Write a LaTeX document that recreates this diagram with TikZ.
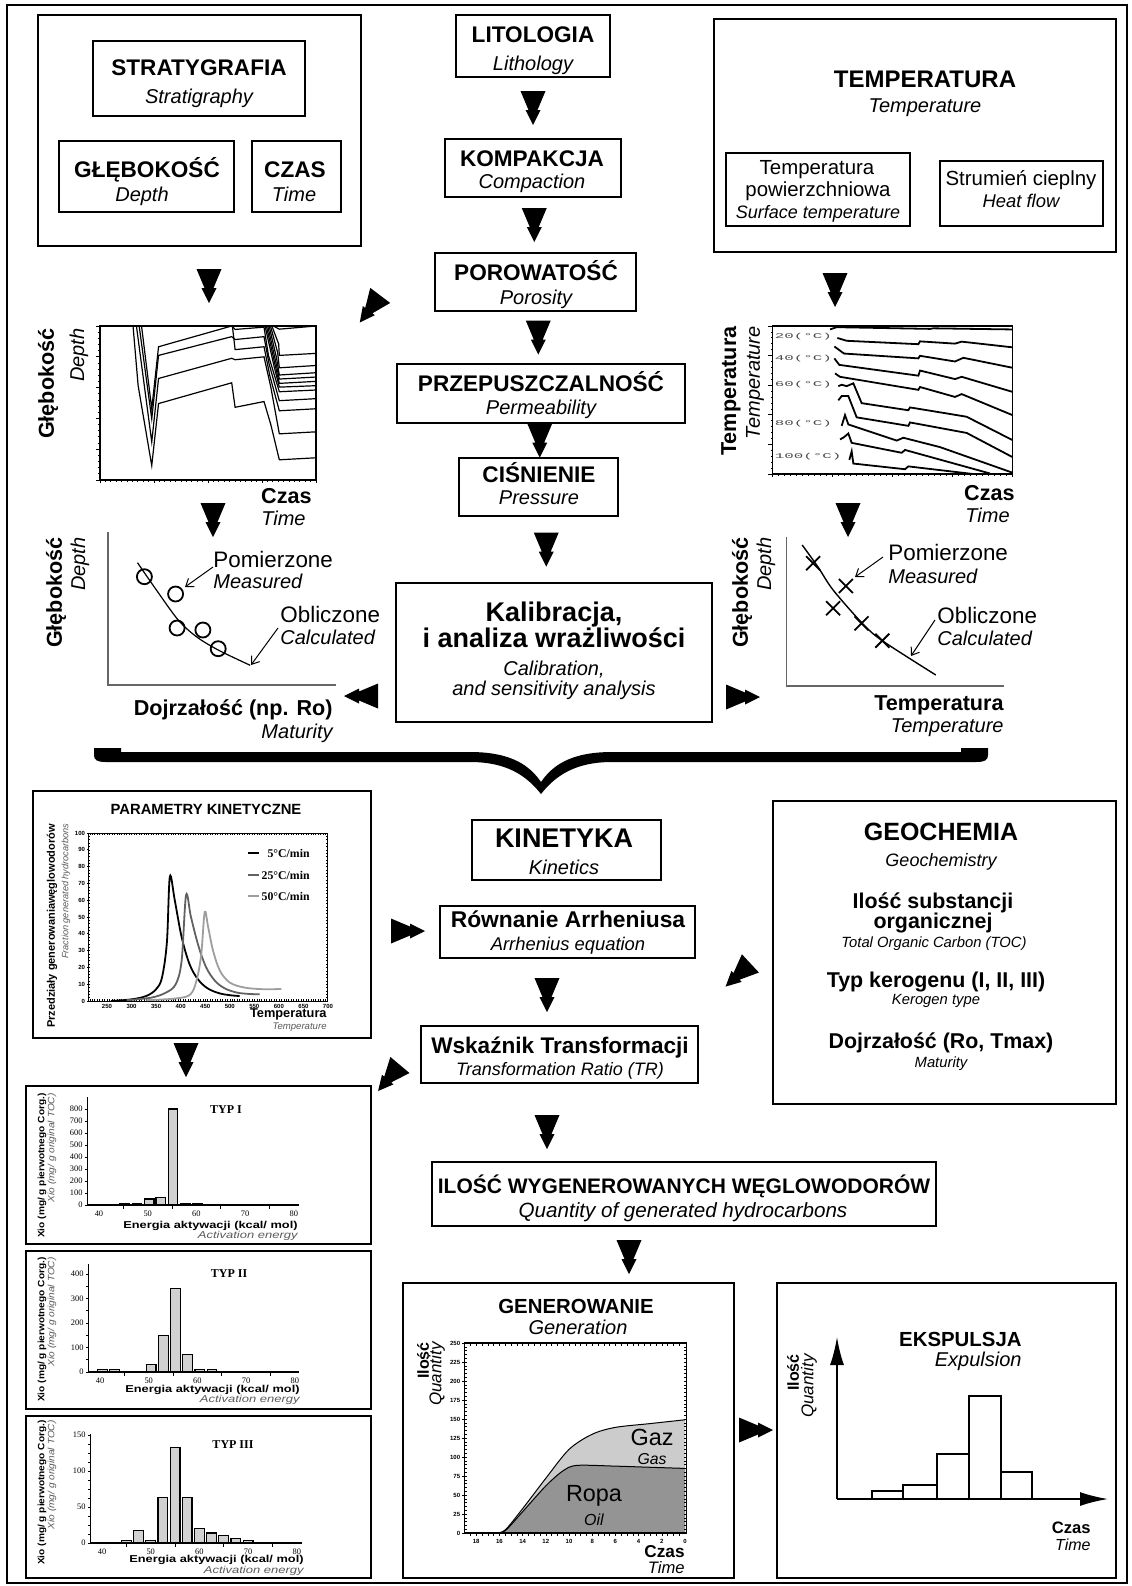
\documentclass[tikz,border=0pt]{standalone}
\usepackage{fontspec}
\usepackage{graphicx}
\setmainfont{Liberation Sans}
\newfontfamily\tmsfont{Liberation Serif}
\newfontfamily\monofont{Liberation Mono}
\usetikzlibrary{fit,calc,arrows.meta}

\newcommand\hdf{\fontsize{11.3}{12}\selectfont\bfseries}
\newcommand\enf{\fontsize{10}{11}\selectfont\itshape}
\newcommand\kalf{\fontsize{13.5}{14}\selectfont\bfseries}
\newcommand\axf{\fontsize{10.8}{11}\selectfont\bfseries}
\newcommand\ptf{\fontsize{11.2}{12}\selectfont}
\newcommand\tickf{\fontsize{3}{3}\selectfont\bfseries}
\newcommand\histf{\fontsize{4.2}{4.2}\selectfont\tmsfont}
\newcommand\typf{\fontsize{6}{6}\selectfont\tmsfont\bfseries}
\newcommand\degf{\fontsize{3.6}{3.6}\selectfont\monofont}
\newcommand\geof{\fontsize{10.7}{11}\selectfont\bfseries}
\newcommand\geoenf{\fontsize{7.4}{8}\selectfont\itshape}
\newcommand\enerf{\fontsize{5}{5}\selectfont\bfseries}
\newcommand\actf{\fontsize{5}{5}\selectfont\itshape}
\newcommand\xiof{\fontsize{4.6}{4.6}\selectfont}

\tikzset{
  box/.style={draw, line width=0.8pt, inner sep=0pt},
  lbl/.style={inner sep=0pt, anchor=base},
  rlbl/.style={inner sep=0pt, anchor=base east},
  llbl/.style={inner sep=0pt, anchor=base west},
  vlbl/.style={inner sep=0pt, rotate=90, anchor=east},
  hd/.style={lbl, font=\hdf},
  en/.style={lbl, font=\enf},
  pointer/.style={-{Straight Barb[length=3.5pt,width=5pt]}, line width=0.5pt},
  bar/.style={draw, fill=black!18, line width=0.6pt},
  xmark/.style={line width=0.9pt},
  fatarrow/.pic={\fill (-12.5,-17) -- (12.5,-17) -- (4.5,2) -- (7.5,2) -- (0,17) -- (-7.5,2) -- (-4.5,2) -- cycle;}
}

\begin{document}
\begin{tikzpicture}[x=0.5pt, y=-0.5pt]
\useasboundingbox (0,0) rectangle (1131,1586);
\draw[line width=1pt] (7,5) rectangle (1127,1583);

% stratygrafia
\node[box, fit={(38,15)(361,246)}] (strat) {};
\node[box, fit={(93,41)(305,116)}] (stratyg) {};
\node[hd] (stratyg1) at (199,75) {STRATYGRAFIA};
\node[en] (stratyg2) at (199,103) {Stratigraphy};
\node[box, fit={(59,141)(234,212)}] (glebok) {};
\node[hd] (glebok1) at (147,177) {GŁĘBOKOŚĆ};
\node[en] (glebok2) at (142,201) {Depth};
\node[box, fit={(252,141)(341,212)}] (czas) {};
\node[hd] (czas1) at (295,177) {CZAS};
\node[en] (czas2) at (294,201) {Time};

% kolumna srodkowa
\node[box, fit={(456,15)(610,77)}] (lito) {};
\node[hd] (lito1) at (533,42) {LITOLOGIA};
\node[en] (lito2) at (533,70) {Lithology};
\node[box, fit={(445,139)(621,197)}] (kompak) {};
\node[hd] (kompak1) at (532,166) {KOMPAKCJA};
\node[en] (kompak2) at (532,188) {Compaction};
\node[box, fit={(435,253)(636,311)}] (porow) {};
\node[hd] (porow1) at (536,280) {POROWATOŚĆ};
\node[en] (porow2) at (536,304) {Porosity};
\node[box, fit={(397,364)(685,423)}] (przep) {};
\node[hd] (przep1) at (541,391) {PRZEPUSZCZALNOŚĆ};
\node[en] (przep2) at (541,414) {Permeability};
\node[box, fit={(459,458)(618,516)}] (cisn) {};
\node[hd] (cisn1) at (539,482) {CIŚNIENIE};
\node[en] (cisn2) at (539,504) {Pressure};
\node[box, fit={(396,583)(712,722)}] (kalib) {};
\node[lbl, font=\kalf] (kalib1) at (554,621) {Kalibracja,};
\node[lbl, font=\kalf] (kalib2) at (554,647) {i analiza wrażliwości};
\node[en] (kalib3) at (554,675) {Calibration,};
\node[en] (kalib4) at (554,695) {and sensitivity analysis};

% temperatura
\node[box, fit={(714,19)(1116,252)}] (temp) {};
\node[lbl, font=\fontsize{12}{12}\selectfont\bfseries] (tempt) at (925,87) {TEMPERATURA};
\node[en] (tempe) at (925,112) {Temperature};
\node[box, fit={(726,153)(910,226)}] (tpow) {};
\node[lbl, font=\fontsize{10.2}{11}\selectfont] (tpow1) at (817,174) {Temperatura};
\node[lbl, font=\fontsize{10.2}{11}\selectfont] (tpow2) at (818,196) {powierzchniowa};
\node[lbl, font=\fontsize{9}{10}\selectfont\itshape] (tpow3) at (818,218) {Surface temperature};
\node[box, fit={(940,161)(1103,226)}] (strum) {};
\node[lbl, font=\fontsize{10.2}{11}\selectfont] (strum1) at (1021,185) {Strumień cieplny};
\node[lbl, font=\fontsize{9.2}{10}\selectfont\itshape] (strum2) at (1021,207) {Heat flow};

\pic at ($(lito.south)!.5!(kompak.north)$) {fatarrow};
\pic at ($(kompak.south)!.5!(porow.north)$) {fatarrow};
\pic at ($(porow.south)!.5!(przep.north)$) {fatarrow};
\pic at ($(przep.south)!.5!(cisn.north)$) {fatarrow};
\pic at ($(cisn.south)!.5!(kalib.north)$) {fatarrow};
\pic at (209,286) {fatarrow};
\pic at (835,290) {fatarrow};
\pic[rotate=-37] at (370,309) {fatarrow};
\pic at (213,520) {fatarrow};
\pic at (848,520) {fatarrow};
\pic[rotate=-90] at (361,696) {fatarrow};
\pic[rotate=90] at (743,697) {fatarrow};

% glebokosc - czas
\begin{scope}[shift={(75.2,300.6)}, x=0.1701pt, y=-0.1442pt, line width=0.6pt]
\draw (73,88) rectangle (708,622);
\foreach \kk in {0,...,25} \draw[line width=0.4pt] (73,88+21.36*\kk) -- ++(-6,0);
\foreach \kk in {0,...,5} \draw[line width=0.4pt] (73,88+106.8*\kk) -- ++(-13,0);
\foreach \kk in {0,...,40} \draw[line width=0.4pt] (73+15.875*\kk,622) -- ++(0,6);
\foreach \kk in {0,...,4} \draw[line width=0.4pt] (73+158.75*\kk,622) -- ++(0,12);
\draw (170,88) -- (185,295) -- (225,572) -- (245,357) -- (460,285) -- (470,370) -- (555,350) -- (575,430) -- (600,552) -- (708,545);
\draw (180,88) -- (225,490) -- (245,270) -- (460,200) -- (470,205) -- (555,195) -- (575,300) -- (600,462) -- (708,455);
\draw (188,88) -- (225,410) -- (245,190) -- (460,125) -- (470,135) -- (555,125) -- (570,220) -- (600,347) -- (708,340);
\draw (195,88) -- (225,375) -- (245,160) -- (460,88);
\draw (460,88) -- (470,100) -- (555,92) -- (568,190) -- (600,316) -- (708,310);
\draw (462,88) -- (470,170) -- (555,160) -- (572,260) -- (600,382) -- (708,375);
\draw (558,88) -- (585,230) -- (600,300) -- (708,295);
\draw (562,88) -- (588,225) -- (600,287) -- (708,280);
\draw (566,88) -- (590,215) -- (600,272) -- (708,265);
\draw (570,88) -- (592,200) -- (600,258) -- (708,250);
\draw (574,88) -- (595,180) -- (600,233) -- (708,225);
\draw (578,88) -- (598,150) -- (600,190) -- (708,183);
\draw (582,88) -- (600,99) -- (708,88);
\end{scope}
\node[vlbl, font=\axf] (gl1) at (48,328) {Głębokość};
\node[vlbl, font=\enf] (de1) at (79,328) {Depth};
\node[rlbl, font=\axf] (cz1) at (312,503) {Czas};
\node[rlbl, font=\enf] (ti1) at (306,525) {Time};

% temperatura - czas
\begin{scope}[shift={(700,309.6)}, x=0.16667pt, y=-0.14176pt, line width=0.9pt]
\draw[line width=0.6pt] (218,58) rectangle (937,580);
\foreach \kk in {0,...,25} \draw[line width=0.4pt] (218,58+20.88*\kk) -- ++(-6,0);
\foreach \kk in {0,...,5} \draw[line width=0.4pt] (218,58+104.4*\kk) -- ++(-13,0);
\foreach \kk in {0,...,40} \draw[line width=0.4pt] (218+17.975*\kk,580) -- ++(0,6);
\foreach \kk in {0,...,4} \draw[line width=0.4pt] (218+179.75*\kk,580) -- ++(0,12);
\draw (390,70) -- (410,62) -- (690,68) -- (700,66) -- (937,70);
\draw (412,100) -- (440,110) -- (655,122) -- (660,112) -- (765,120) -- (785,113) -- (937,133);
\draw (403,130) -- (432,155) -- (655,172) -- (660,163) -- (765,183) -- (790,170) -- (937,205);
\draw (403,172) -- (418,195) -- (655,233) -- (660,215) -- (765,245) -- (785,237) -- (937,290);
\draw (405,225) -- (420,237) -- (655,283) -- (660,273) -- (765,308) -- (785,298) -- (937,372);
\draw (415,270) -- (425,265) -- (440,270) -- (460,260) -- (485,330) -- (625,355) -- (630,345) -- (770,372) -- (800,378) -- (937,460);
\draw (415,320) -- (425,305) -- (445,305) -- (470,380) -- (625,410) -- (630,398) -- (800,435) -- (937,520);
\draw (425,410) -- (435,372) -- (445,405) -- (590,462) -- (610,452) -- (720,485) -- (937,575);
\draw (420,458) -- (432,450) -- (445,437) -- (455,470) -- (605,505) -- (615,495) -- (870,578);
\draw (448,530) -- (455,500) -- (460,543) -- (615,563) -- (625,553) -- (820,580);
\foreach \yy/\lab in {97/20,172/40,265/60,402/80,520/100}
  \node[anchor=west, inner sep=0pt, text=black!70, font=\degf] (deg\lab) at (222,\yy) {\scalebox{2.2}[1]{\lab(°C)}};
\end{scope}
\node[vlbl, font=\axf] (te1) at (731,326) {Temperatura};
\node[vlbl, font=\enf] (te2) at (755,326) {Temperature};
\node[rlbl, font=\axf] (cz2) at (1015,500) {Czas};
\node[rlbl, font=\enf] (ti2) at (1010,522) {Time};

% glebokosc - dojrzalosc
\draw[black!60, line width=0.6pt] (108,532) -- (108,685) -- (336,685);
\draw[line width=0.6pt] plot[smooth] coordinates {(137.5,562.7)(156.4,590)(178.2,620)(196.4,636.7)(218.2,650)(250.2,665.3)};
\foreach \px/\py in {144.4/576.7,175.6/594,177.1/628,202.9/630,218.2/648.7}
  \draw[line width=0.9pt] (\px,\py) circle[radius=7.5];
\node[vlbl, font=\axf] (gl2) at (56,537) {Głębokość};
\node[vlbl, font=\enf] (de2) at (80,537) {Depth};
\node[llbl, font=\ptf] (pom1) at (213,567) {Pomierzone};
\node[llbl, font=\enf] (mea1) at (213,588) {Measured};
\node[llbl, font=\ptf] (obl1) at (280,622) {Obliczone};
\node[llbl, font=\enf] (cal1) at (280,644) {Calculated};
\draw[pointer] (pom1.base west) -- (185,587);
\draw[pointer] ($(obl1.base west)+(-2,6)$) -- (251,665);
\node[rlbl, font=\axf] (doj1) at (333,715) {Dojrzałość (np. Ro)};
\node[rlbl, font=\enf] (mat1) at (333,738) {Maturity};

% glebokosc - temperatura
\draw[black!60, line width=0.6pt] (786.5,537) -- (786.5,686) -- (1003.5,686);
\draw[line width=0.7pt] plot[smooth] coordinates {(802.2,545)(818,567)(833.1,590)(862.3,623.3)(882.3,640.7)(935.8,675)};
\foreach \px/\py in {813.1/563.3,845.9/586,833.1/608.3,861.5/623.3,882.3/640.7}
  \draw[xmark] (\px-7,\py-7) -- (\px+7,\py+7) (\px-7,\py+7) -- (\px+7,\py-7);
\node[vlbl, font=\axf] (gl3) at (742,537) {Głębokość};
\node[vlbl, font=\enf] (de3) at (766,537) {Depth};
\node[llbl, font=\ptf] (pom2) at (888,560) {Pomierzone};
\node[llbl, font=\enf] (mea2) at (888,583) {Measured};
\node[llbl, font=\ptf] (obl2) at (937,623) {Obliczone};
\node[llbl, font=\enf] (cal2) at (937,645) {Calculated};
\draw[pointer] ($(pom2.base west)+(-5,-3)$) -- (855,577);
\draw[pointer] ($(obl2.base west)+(-2,-3)$) -- (911,656);
\node[rlbl, font=\axf] (tem3) at (1004,710) {Temperatura};
\node[rlbl, font=\enf] (tem4) at (1004,732) {Temperature};

% klamra
\fill (94,748) -- (121,748) -- (121,752) -- (470,752) .. controls (512,752) and (530,766) .. (541,782)
  .. controls (552,766) and (570,752) .. (612,752) -- (961,752) -- (961,748) -- (988,748) -- (988,755)
  .. controls (988,760) and (985,762) .. (976,762) -- (612,762) .. controls (576,762) and (556,775) .. (541,794)
  .. controls (526,775) and (506,762) .. (470,762) -- (106,762) .. controls (97,762) and (94,760) .. (94,755) -- cycle;

% parametry kinetyczne
\node[box, fit={(33,791)(371,1038)}] (param) {};
\node[lbl, font=\fontsize{7.4}{7.4}\selectfont\bfseries] (paramt) at (206,814) {PARAMETRY KINETYCZNE};
\begin{scope}[shift={(-15.78,1001)}, x=0.24555pt, y=0.84pt]
\draw[line width=0.5pt] (213,0) rectangle (698,100);
\foreach \tk in {215,220,...,695} \draw[line width=0.25pt] (\tk,0) -- (\tk,1.2) (\tk,100) -- (\tk,98.8);
\foreach \vv in {2,4,...,98} \draw[line width=0.25pt] (213,\vv) -- (216,\vv) (698,\vv) -- (695,\vv);
\foreach \vv in {0,10,...,100} {\draw[line width=0.4pt] (213,\vv) -- (209,\vv);
  \node[anchor=east, inner sep=0.5pt, font=\tickf] (ky\vv) at (208,\vv) {\vv};}
\foreach \tk in {250,300,...,700} \node[anchor=north, inner sep=0pt, font=\tickf] (kx\tk) at (\tk,-1.5) {\tk};
\draw[line width=0.9pt] plot[smooth, tension=0.55] coordinates {(258,0)(300,1)(330,3)(350,7)(362,14)(372,35)(378,74)(388,60)(402,38)(418,22)(435,13)(455,7.5)(480,4.5)(505,3.3)(520,3)};
\draw[line width=0.9pt, black!62] plot[smooth, tension=0.55] coordinates {(290,0.5)(340,2)(370,5)(390,10)(402,24)(411,63)(421,50)(436,33)(452,20)(470,12)(490,7.5)(515,5)(540,4.2)(561,4)};
\draw[line width=0.9pt, black!38] plot[smooth, tension=0.55] coordinates {(330,0.5)(390,1.5)(420,4)(433,13)(442,28)(449,53)(456,44)(466,30)(480,18)(500,11)(530,8)(570,7)(605,7.2)};
\end{scope}
\draw[line width=0.9pt] (248,853) -- (259,853);
\draw[line width=0.9pt, black!62] (248,875) -- (259,875);
\draw[line width=0.9pt, black!38] (248,896) -- (259,896);
\node[anchor=east, inner sep=0pt, font=\fontsize{5.9}{6}\selectfont\tmsfont\bfseries] (leg1) at (310,853) {5°C/min};
\node[anchor=east, inner sep=0pt, font=\fontsize{5.9}{6}\selectfont\tmsfont\bfseries] (leg2) at (310,875) {25°C/min};
\node[anchor=east, inner sep=0pt, font=\fontsize{5.9}{6}\selectfont\tmsfont\bfseries] (leg3) at (310,896) {50°C/min};
\node[inner sep=0pt, rotate=90, font=\fontsize{5.5}{5.5}\selectfont\bfseries] (przedz) at (52,926) {Przedziały generowaniawęglowodorów};
\node[vlbl, font=\fontsize{4.6}{4.6}\selectfont\itshape, text=black!65] (fract) at (66,823) {Fraction generated hydrocarbons};
\node[rlbl, font=\fontsize{6.4}{6.4}\selectfont\bfseries] (ktem1) at (327,1017) {Temperatura};
\node[rlbl, font=\fontsize{4.8}{4.8}\selectfont\itshape, text=black!65] (ktem2) at (327,1029) {Temperature};
\pic at (186,1060) {fatarrow};

% kinetyka
\node[box, fit={(472,820)(661,880)}] (kinet) {};
\node[lbl, font=\fontsize{13.5}{14}\selectfont\bfseries] (kinet1) at (564,847) {KINETYKA};
\node[en] (kinet2) at (564,874) {Kinetics};
\node[box, fit={(440,906)(695,958)}] (rown) {};
\node[lbl, font=\fontsize{11.4}{12}\selectfont\bfseries] (rown1) at (568,927) {Równanie Arrheniusa};
\node[lbl, font=\fontsize{9.2}{10}\selectfont\itshape] (rown2) at (568,950) {Arrhenius equation};
\node[box, fit={(421,1026)(698,1083)}] (wskaz) {};
\node[lbl, font=\fontsize{11.3}{12}\selectfont\bfseries] (wskaz1) at (560,1053) {Wskaźnik Transformacji};
\node[lbl, font=\fontsize{9}{10}\selectfont\itshape] (wskaz2) at (560,1075) {Transformation Ratio (TR)};
\node[box, fit={(432,1162)(936,1226)}] (ilosc) {};
\node[lbl, font=\fontsize{10.5}{11}\selectfont\bfseries] (ilosc1) at (684,1193) {ILOŚĆ WYGENEROWANYCH WĘGLOWODORÓW};
\node[lbl, font=\fontsize{10.3}{11}\selectfont\itshape] (ilosc2) at (683,1217) {Quantity of generated hydrocarbons};
\pic[rotate=90] at (408,931) {fatarrow};
\pic at (547,995) {fatarrow};
\pic at (547,1132) {fatarrow};
\pic at (629,1257) {fatarrow};
\pic[rotate=-47] at (738,975) {fatarrow};
\pic[rotate=-40] at (389,1078) {fatarrow};

% geochemia
\node[box, fit={(773,801)(1116,1104)}] (geo) {};
\node[lbl, font=\fontsize{12.5}{13}\selectfont\bfseries] (geo1) at (941,840) {GEOCHEMIA};
\node[lbl, font=\fontsize{9}{10}\selectfont\itshape] (geo2) at (941,866) {Geochemistry};
\node[lbl, font=\geof] (geo3) at (933,908) {Ilość substancji};
\node[lbl, font=\geof] (geo4) at (933,928) {organicznej};
\node[lbl, font=\geoenf] (geo5) at (934,947) {Total Organic Carbon (TOC)};
\node[lbl, font=\geof] (geo6) at (936,987) {Typ kerogenu (I, II, III)};
\node[lbl, font=\geoenf] (geo7) at (936,1004) {Kerogen type};
\node[lbl, font=\geof] (geo8) at (941,1048) {Dojrzałość (Ro, Tmax)};
\node[lbl, font=\geoenf] (geo9) at (941,1067) {Maturity};

% typ I
\node[box, fit={(26,1086)(371,1244)}] (typ1) {};
\node[lbl, font=\typf] (typ1t) at (226,1113) {TYP I};
\begin{scope}[shift={(-95.8,1205)}, x=2.435pt, y=0.06pt]
\foreach \cx/\hh in {45.3/12,47.8/12,50.3/50,52.7/65,55.2/800,57.7/10,60.2/10}
  \draw[bar] (\cx-1,0) rectangle (\cx+1,\hh);
\draw[line width=0.6pt] (37.7,900) -- (37.7,0) -- (81.1,0);
\foreach \vv in {0,100,...,800} {\draw[line width=0.4pt] (37.7,\vv) -- (37.1,\vv);
  \node[anchor=east, inner sep=0.5pt, font=\histf] (ay\vv) at (36.9,\vv) {\vv};}
\foreach \e in {45,55,65,75} \draw[line width=0.4pt] (\e,0) -- (\e,-30);
\foreach \e in {40,50,...,80} \node[anchor=north, inner sep=0pt, font=\histf] (ax\e) at (\e,-45) {\e};
\end{scope}
\node[rlbl, font=\enerf] (en1) at (298,1228) {\scalebox{1.28}[1]{Energia aktywacji (kcal/ mol)}};
\node[rlbl, font=\actf, text=black!65] (ac1) at (298,1238) {\scalebox{1.3}[1]{Activation energy}};
\node[vlbl, font=\xiof\bfseries] (xb1) at (42,1093) {\scalebox{1.1}[1]{Xio (mg/ g pierwotnego Corg.)}};
\node[vlbl, font=\xiof\itshape, text=black!65] (xi1) at (52,1093) {\scalebox{1.1}[1]{Xio (mg/ g original TOC)}};

% typ II
\node[box, fit={(26,1251)(371,1409)}] (typ2) {};
\node[lbl, font=\typf] (typ2t) at (229,1277) {TYP II};
\begin{scope}[shift={(-94.8,1372)}, x=2.435pt, y=0.1225pt]
\foreach \cx/\hh in {40.5/10,43/10,50.5/30,53/150,55.5/340,58/70,60.5/10,63/10}
  \draw[bar] (\cx-1,0) rectangle (\cx+1,\hh);
\draw[line width=0.6pt] (37.7,441) -- (37.7,0) -- (80.9,0);
\foreach \vv in {0,50,...,400} \draw[line width=0.4pt] (37.7,\vv) -- (37.1,\vv);
\foreach \vv in {0,100,...,400} \node[anchor=east, inner sep=0.5pt, font=\histf] (by\vv) at (36.9,\vv) {\vv};
\foreach \e in {45,55,65,75} \draw[line width=0.4pt] (\e,0) -- (\e,-15);
\foreach \e in {40,50,...,80} \node[anchor=north, inner sep=0pt, font=\histf] (bx\e) at (\e,-22) {\e};
\end{scope}
\node[rlbl, font=\enerf] (en2) at (300,1392) {\scalebox{1.28}[1]{Energia aktywacji (kcal/ mol)}};
\node[rlbl, font=\actf, text=black!65] (ac2) at (300,1402) {\scalebox{1.3}[1]{Activation energy}};
\node[vlbl, font=\xiof\bfseries] (xb2) at (42,1257) {\scalebox{1.1}[1]{Xio (mg/ g pierwotnego Corg.)}};
\node[vlbl, font=\xiof\itshape, text=black!65] (xi2) at (52,1257) {\scalebox{1.1}[1]{Xio (mg/ g original TOC)}};

% typ III
\node[box, fit={(26,1416)(371,1578)}] (typ3) {};
\node[lbl, font=\typf] (typ3t) at (233,1448) {TYP III};
\begin{scope}[shift={(-92.8,1543)}, x=2.435pt, y=0.36pt]
\foreach \cx/\hh in {45/3,47.5/17,50/3,52.5/63,55/133,57.5/63,60/20,62.5/14,65/10,67.5/6,70/3}
  \draw[bar] (\cx-1,0) rectangle (\cx+1,\hh);
\draw[line width=0.6pt] (37.7,151) -- (37.7,0) -- (81.07,0);
\foreach \vv in {0,12.5,...,150} \draw[line width=0.4pt] (37.7,\vv) -- (37.1,\vv);
\foreach \vv in {0,50,100,150} \node[anchor=east, inner sep=0.5pt, font=\histf] (cy\vv) at (36.9,\vv) {\vv};
\foreach \e in {45,55,65,75} \draw[line width=0.4pt] (\e,0) -- (\e,-5);
\foreach \e in {40,50,...,80} \node[anchor=north, inner sep=0pt, font=\histf] (cx\e) at (\e,-7.5) {\e};
\end{scope}
\node[rlbl, font=\enerf] (en3) at (304,1562) {\scalebox{1.28}[1]{Energia aktywacji (kcal/ mol)}};
\node[rlbl, font=\actf, text=black!65] (ac3) at (304,1573) {\scalebox{1.3}[1]{Activation energy}};
\node[vlbl, font=\xiof\bfseries] (xb3) at (42,1420) {\scalebox{1.1}[1]{Xio (mg/ g pierwotnego Corg.)}};
\node[vlbl, font=\xiof\itshape, text=black!65] (xi3) at (52,1420) {\scalebox{1.1}[1]{Xio (mg/ g original TOC)}};

% generowanie
\node[box, fit={(403,1283)(734,1578)}] (gener) {};
\node[lbl, font=\fontsize{10.2}{11}\selectfont\bfseries] (gen1) at (576,1313) {GENEROWANIE};
\node[en] (gen2) at (578,1334) {Generation};
\begin{scope}[shift={(685,1533)}, x=-5.8pt, y=0.38pt]
\fill[black!20] plot[smooth] coordinates {(16.3,0)(15.5,4)(14,32)(12,72)(10,110)(8,130)(6,139)(3,144)(0,149)} -- (0,0) -- cycle;
\fill[black!42] plot[smooth] coordinates {(16.3,0)(15.5,3)(14,28)(12,62)(10.5,82)(9.3,89)(6,88)(3,86.5)(0,85)} -- (0,0) -- cycle;
\draw[line width=0.5pt] plot[smooth] coordinates {(16.3,0)(15.5,4)(14,32)(12,72)(10,110)(8,130)(6,139)(3,144)(0,149)};
\draw[line width=0.5pt] plot[smooth] coordinates {(16.3,0)(15.5,3)(14,28)(12,62)(10.5,82)(9.3,89)(6,88)(3,86.5)(0,85)};
\draw[line width=0.6pt] (-0.15,0) rectangle (19,250);
\foreach \q in {5,10,...,245} \draw[line width=0.25pt] (19,\q) -- (18.8,\q) (-0.15,\q) -- (0.05,\q);
\foreach \tk in {0.5,1,...,18.5} \draw[line width=0.25pt] (\tk,0) -- (\tk,-4) (\tk,250) -- (\tk,246);
\foreach \q in {0,25,...,250} {\draw[line width=0.4pt] (19,\q) -- (19.25,\q);
  \node[anchor=east, inner sep=0.3pt, font=\tickf] (gy\q) at (19.3,\q) {\q};}
\foreach \tk in {0,2,...,18} \node[anchor=north, inner sep=0pt, font=\tickf] (gx\tk) at (\tk,-8) {\tk};
\end{scope}
\node[vlbl, font=\fontsize{8}{8}\selectfont\bfseries] (il1) at (423,1342) {Ilość};
\node[vlbl, font=\fontsize{8.5}{8.5}\selectfont\itshape] (qu1) at (437,1342) {Quantity};
\node[lbl, font=\fontsize{11.7}{12}\selectfont] (gaz) at (652,1445) {Gaz};
\node[lbl, font=\fontsize{7.9}{8}\selectfont\itshape] (gas) at (652,1464) {Gas};
\node[lbl, font=\fontsize{11.7}{12}\selectfont] (ropa) at (594,1501) {Ropa};
\node[lbl, font=\fontsize{8}{8}\selectfont\itshape] (oil) at (594,1525) {Oil};
\node[rlbl, font=\fontsize{8.6}{9}\selectfont\bfseries] (cz3) at (685,1557) {Czas};
\node[rlbl, font=\fontsize{8.3}{9}\selectfont\itshape] (ti3) at (685,1573) {Time};
\pic[rotate=90] at (756,1430) {fatarrow};

% ekspulsja
\node[box, fit={(777,1283)(1116,1578)}] (ekspul) {};
\node[rlbl, font=\fontsize{10.2}{11}\selectfont\bfseries] (eks1) at (1022,1346) {EKSPULSJA};
\node[rlbl, font=\enf] (eks2) at (1022,1366) {Expulsion};
\coordinate (orig) at (837,1499);
\draw[line width=0.9pt, -{Latex[length=14pt,width=7pt]}] (orig) -- (837,1337);
\draw[line width=0.9pt, -{Latex[length=14pt,width=7pt]}] (orig) -- (1108,1499);
\foreach \xa/\xb/\yt in {872/903/1491,903/937/1485,937/969/1454,969/1001/1396,1001/1032/1472}
  \draw[line width=0.8pt] (\xa,1499) rectangle (\xb,\yt);
\node[vlbl, font=\fontsize{8}{8}\selectfont\bfseries] (il2) at (793,1354) {Ilość};
\node[vlbl, font=\fontsize{8.5}{8.5}\selectfont\itshape] (qu2) at (809,1354) {Quantity};
\node[rlbl, font=\fontsize{8.3}{9}\selectfont\bfseries] (cz4) at (1091,1533) {Czas};
\node[rlbl, font=\fontsize{8}{9}\selectfont\itshape] (ti4) at (1091,1550) {Time};
\end{tikzpicture}
\end{document}
